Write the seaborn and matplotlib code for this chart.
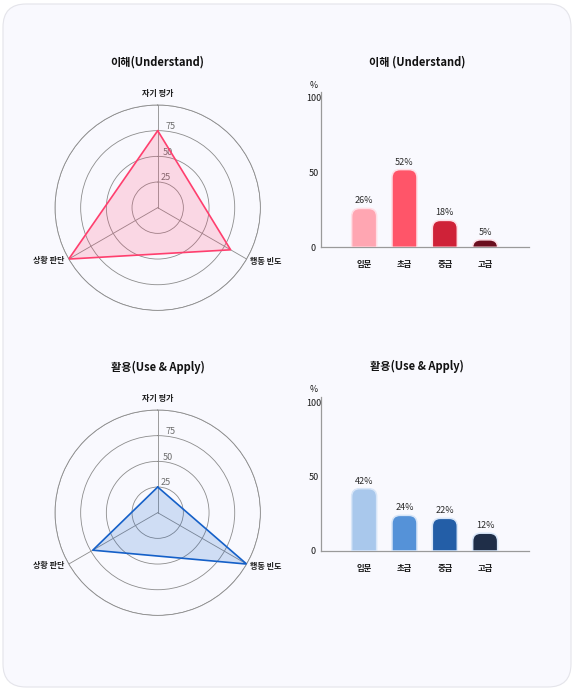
import numpy as np
import pandas as pd
import seaborn as sns
import matplotlib.pyplot as plt
from matplotlib.path import Path
from matplotlib.patches import PathPatch, FancyBboxPatch

# 데이터
radar_labels = ['자기 평가', '행동 빈도', '상황 판단']
radar_understand = [75, 82, 100]
radar_apply = [25, 100, 73]

levels = ['입문', '초급', '중급', '고급']
bar_understand = [26, 52, 18, 5]
bar_apply = [42, 24, 22, 12]

titles_radar = ['이해(Understand)', '활용(Use & Apply)']
titles_bar = ['이해 (Understand)', '활용(Use & Apply)']

red_colors = ['#ffa6b2', '#ff5569', '#cf2238', '#6a0e1e']
blue_colors = ['#a9c8ec', '#5592d8', '#235ea7', '#1f2e48']

sns.set_theme(style='white')
plt.rcParams['font.family'] = ['Noto Sans CJK KR', 'DejaVu Sans']

W, H = 575, 691
fig = plt.figure(figsize=(5.75, 6.91), dpi=100)
fig.patch.set_facecolor('white')

# 카드 배경
card = FancyBboxPatch((3 / W, 4 / H), 568 / W, 683 / H,
                      boxstyle='round,pad=0,rounding_size=0.04',
                      mutation_aspect=W / H,
                      transform=fig.transFigure,
                      facecolor='#f9f9fe', edgecolor='#e4e4ea', linewidth=0.8,
                      zorder=-5)
fig.patches.append(card)


def px_box(x0, y0, x1, y1):
    # 픽셀 좌표 (위에서부터) -> figure 좌표
    return [x0 / W, 1 - y1 / H, (x1 - x0) / W, (y1 - y0) / H]


def draw_radar(ax, values, line_color, title):
    n = len(radar_labels)
    angles = np.linspace(0, 2 * np.pi, n, endpoint=False).tolist()
    vals = list(values) + [values[0]]
    angs = angles + [angles[0]]
    ax.set_facecolor('none')
    ax.set_theta_offset(np.pi / 2)
    ax.set_theta_direction(-1)
    ax.set_ylim(0, 100)
    ax.set_yticks([25, 50, 75, 100])
    ax.set_yticklabels(['25', '50', '75', ''], fontsize=6.5, color='#6e6e6e')
    ax.set_rlabel_position(6)
    ax.set_xticks(angles)
    ax.set_xticklabels([])
    ax.grid(color='#8c8c8c', linewidth=0.6)
    ax.spines['polar'].set_color('#8c8c8c')
    ax.spines['polar'].set_linewidth(0.6)
    ax.fill(angs, vals, color=line_color, alpha=0.18, linewidth=0, zorder=2)
    ax.plot(angs, vals, color=line_color, linewidth=1.2, zorder=3)
    for lbl in ax.get_yticklabels():
        lbl.set_zorder(4)
    # 축 이름
    offsets = [(0, 5), (2.5, -1.5), (-3.5, -1)]
    aligns = [('center', 'bottom'), ('left', 'center'), ('right', 'center')]
    for a, lab, off, (ha, va) in zip(angles, radar_labels, offsets, aligns):
        ax.annotate(lab, xy=(a, 100), xytext=off, textcoords='offset points',
                    ha=ha, va=va, fontsize=5.8, fontweight='bold',
                    color='#1a1a1a', annotation_clip=False)
    pos = ax.get_position()
    fig.text((pos.x0 + pos.x1) / 2, pos.y1 + 43 / H, title,
             ha='center', va='center', fontsize=8, fontweight='bold', color='#111111')


def rounded_top(x, w, h, rx, ry):
    ry = min(ry, h)
    verts = [(x, 0), (x, h - ry), (x, h), (x + rx, h), (x + w - rx, h),
             (x + w, h), (x + w, h - ry), (x + w, 0), (x, 0)]
    codes = [Path.MOVETO, Path.LINETO, Path.CURVE3, Path.CURVE3, Path.LINETO,
             Path.CURVE3, Path.CURVE3, Path.LINETO, Path.CLOSEPOLY]
    return Path(verts, codes)


def draw_bars(ax, values, colors, edge, title, title_y):
    df = pd.DataFrame({'level': levels, 'value': values})
    sns.barplot(data=df, x='level', y='value', hue='level', palette=colors,
                legend=False, width=0.62, ax=ax)
    ax.set_facecolor('none')
    for p, c in zip(list(ax.patches), colors):
        x, w, h = p.get_x(), p.get_width(), p.get_height()
        p.set_visible(False)
        ax.add_patch(PathPatch(rounded_top(x, w, h, 0.2, 5.4),
                               facecolor=c, edgecolor=edge, linewidth=1.1,
                               zorder=3))
        ax.text(x + w / 2, h + 2.0, f'{h:.0f}%', ha='center', va='bottom',
                fontsize=6.5, color='#2a2a2a')
    ax.set_xlim(-1.07, 4.08)
    ax.set_ylim(0, 104)
    ax.set_yticks([0, 50, 100])
    ax.set_yticklabels(['0', '50', '100'], fontsize=6.5, color='#1a1a1a')
    for lbl in ax.get_yticklabels():
        lbl.set_horizontalalignment('center')
    ax.tick_params(axis='y', length=0, pad=5.5)
    ax.tick_params(axis='x', length=0, pad=9, labelsize=6)
    for lbl in ax.get_xticklabels():
        lbl.set_fontweight('bold')
        lbl.set_color('#1a1a1a')
    ax.set_xlabel('')
    ax.set_ylabel('')
    sns.despine(ax=ax)
    for s in ['left', 'bottom']:
        ax.spines[s].set_color('#9a9a9a')
        ax.spines[s].set_linewidth(0.9)
    ax.text(-7.5 / 207.7, 108.5, '%', transform=ax.get_yaxis_transform(),
            ha='center', va='center', fontsize=6.3, color='#1a1a1a', clip_on=False)
    fig.text(417 / W, 1 - title_y / H, title, ha='center', va='center',
             fontsize=8, fontweight='bold', color='#111111')


ax1 = fig.add_axes(px_box(55, 105, 260.4, 310.4), projection='polar')
draw_radar(ax1, radar_understand, '#ff3f6e', titles_radar[0])

ax2 = fig.add_axes(px_box(55, 410, 260.4, 615.4), projection='polar')
draw_radar(ax2, radar_apply, '#1560c8', titles_radar[1])

ax3 = fig.add_axes(px_box(321, 91.9, 528.7, 247.3))
draw_bars(ax3, bar_understand, red_colors, '#ffdfe6', titles_bar[0], 62)

ax4 = fig.add_axes(px_box(321, 396.6, 528.7, 551))
draw_bars(ax4, bar_apply, blue_colors, '#d8e6f8', titles_bar[1], 366)

plt.savefig('out.png', dpi=100, facecolor='white')
plt.close()
